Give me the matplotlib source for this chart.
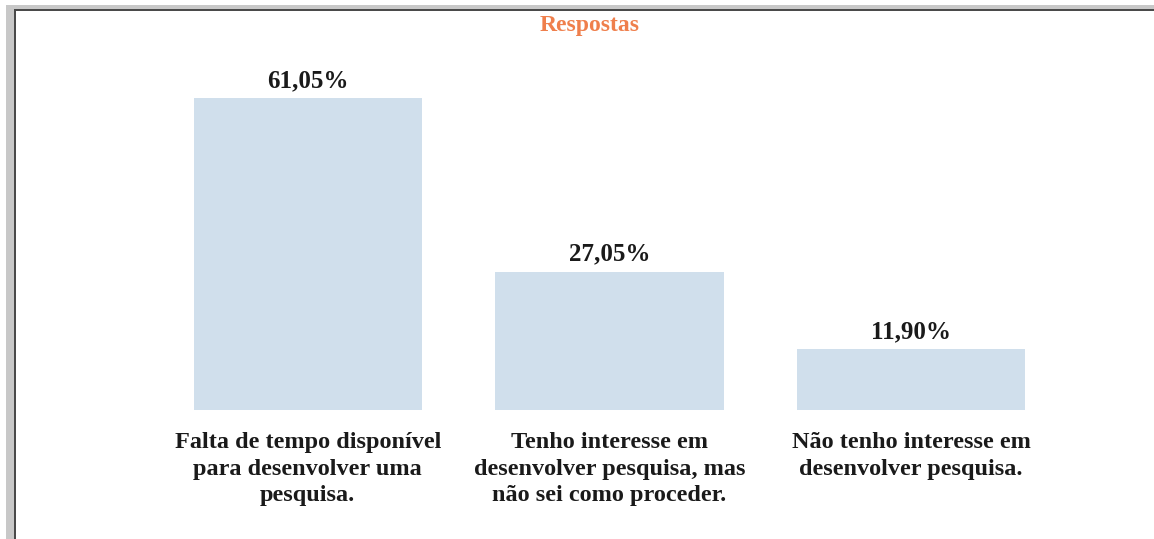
import matplotlib.pyplot as plt
from matplotlib.patches import Rectangle

# data
categorias = ['Falta de tempo disponível\npara desenvolver uma\npesquisa.',
              'Tenho interesse em\ndesenvolver pesquisa, mas\nnão sei como proceder.',
              'Não tenho interesse em\ndesenvolver pesquisa.']
valores = [61.05, 27.05, 11.90]
rotulos = ['61,05%', '27,05%', '11,90%']

W, H = 1154, 539
plt.rcParams['font.family'] = ['Liberation Serif', 'DejaVu Serif']

fig = plt.figure(figsize=(W / 100, H / 100), dpi=100)
fig.patch.set_facecolor('white')

# moldura da caixa (screenshot)
def px_rect(x0, y0, x1, y1, color):
	fig.add_artist(Rectangle((x0 / W, 1 - y1 / H), (x1 - x0) / W, (y1 - y0) / H,
		transform=fig.transFigure, facecolor=color, edgecolor='none', zorder=0))

px_rect(6, 5, W, 9, '#c8c8c8')
px_rect(6, 5, 14, H, '#c8c8c8')
px_rect(14, 9, W, 11, '#4a4a4a')
px_rect(14, 9, 16, H, '#4a4a4a')

ax = fig.add_axes([157 / W, (H - 410) / H, 905 / W, 350 / H])
ax.set_facecolor('none')
x = range(len(valores))
ax.bar(x, valores, width=0.756, color='#d0dfec', edgecolor='none')
ax.set_xlim(-0.5, 2.5)
ax.set_ylim(0, 68.5)

for i, v in enumerate(valores):
	ax.annotate(rotulos[i], (i, v), xytext=(0, 11), textcoords='offset pixels',
		ha='center', va='baseline', fontsize=18, fontweight='bold', color='#1a1a1a')

ax.set_xticks(list(x))
ax.set_xticklabels(categorias, fontsize=17.5, fontweight='bold', color='#1a1a1a', linespacing=1.34)
ax.tick_params(axis='x', length=0, pad=16)
ax.set_yticks([])
for s in ax.spines.values():
	s.set_visible(False)

fig.text(590 / W, 1 - 31 / H, 'Respostas', ha='center', va='baseline',
	fontsize=17, fontweight='bold', color='#ef7f4c')

fig.savefig('out.png', dpi=100)
